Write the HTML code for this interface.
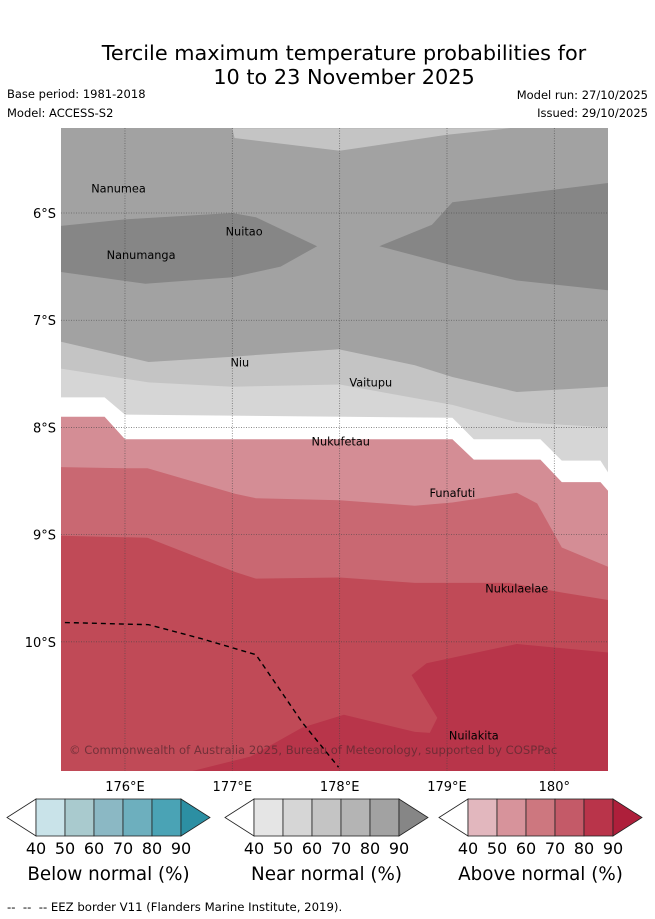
<!DOCTYPE html>
<html><head><meta charset="utf-8">
<style>
body{margin:0;background:#fff;width:655px;height:919px;overflow:hidden;font-family:"DejaVu Sans","Liberation Sans",sans-serif;}
svg{display:block}
</style></head>
<body>
<svg id="fig" width="655" height="919" xmlns="http://www.w3.org/2000/svg">
<text x="344" y="60" font-size="20.8" text-anchor="middle">Tercile maximum temperature probabilities for</text>
<text x="344" y="84" font-size="20.8" text-anchor="middle">10 to 23 November 2025</text>
<text x="7" y="98" font-size="11.5">Base period: 1981-2018</text>
<text x="7" y="117" font-size="11.5">Model: ACCESS-S2</text>
<text x="648" y="99" font-size="11.5" text-anchor="end">Model run: 27/10/2025</text>
<text x="648" y="117" font-size="11.5" text-anchor="end">Issued: 29/10/2025</text>
<defs><clipPath id="mapclip"><rect x="61" y="128" width="547" height="643"/></clipPath></defs>
<g id="map" clip-path="url(#mapclip)"></g>
<g id="overlay"></g>
<g id="cbars"></g>
<text x="7" y="911" font-size="11.7">-- &#160;-- &#160;-- EEZ border V11 (Flanders Marine Institute, 2019).</text>
</svg>
<script>
// axis extents
const lonMin = 175.404, lonMax = 180.50, latMin = 5.207, latMax = 11.205;
const X = lon => 61 + (lon - lonMin) / (lonMax - lonMin) * 547;
const Y = lat => 128 + (lat - latMin) / (latMax - latMin) * 643;
const lonTicks = [176, 177, 178, 179, 180];
const lonTickLabels = ["176°E", "177°E", "178°E", "179°E", "180°"];
const latTicks = [6, 7, 8, 9, 10];
const latTickLabels = ["6°S", "7°S", "8°S", "9°S", "10°S"];

// contour polygons [lon, lat]
const topLightLon = [177.00, 177.02, 178.00, 179.00, 179.59];
const topLightLat = [5.21, 5.30, 5.42, 5.27, 5.21];
const darkLeftLon = [175.40, 176.00, 177.00, 177.22, 177.79, 177.45, 177.00, 176.19, 175.40];
const darkLeftLat = [6.12, 6.06, 6.00, 6.04, 6.31, 6.50, 6.60, 6.66, 6.55];
const darkRightLon = [178.37, 178.86, 179.05, 180.50, 180.50, 179.65, 179.05];
const darkRightLat = [6.31, 6.11, 5.90, 5.72, 6.72, 6.63, 6.49];
// band boundaries (filled downward to map bottom)
const b60Lon = [175.40, 176.22, 177.00, 177.99, 178.70, 179.05, 179.65, 180.50];
const b60Lat = [7.20, 7.39, 7.34, 7.27, 7.42, 7.53, 7.67, 7.62];
const b50Lon = [175.40, 176.22, 177.00, 178.00, 179.05, 179.65, 180.50];
const b50Lat = [7.45, 7.58, 7.62, 7.60, 7.79, 7.95, 8.00];
const bWhiteLon = [175.40, 175.81, 176.00, 179.05, 179.25, 179.87, 180.07, 180.43, 180.50];
const bWhiteLat = [7.72, 7.72, 7.88, 7.91, 8.11, 8.11, 8.31, 8.31, 8.42];
const bRed50Lon = [175.40, 175.81, 176.00, 179.05, 179.25, 179.87, 180.07, 180.43, 180.50];
const bRed50Lat = [7.90, 7.90, 8.11, 8.11, 8.30, 8.30, 8.51, 8.51, 8.59];
const bRed60Lon = [175.40, 176.00, 176.21, 177.03, 177.22, 178.00, 178.70, 179.05, 179.65, 179.84, 180.07, 180.50];
const bRed60Lat = [8.37, 8.38, 8.38, 8.62, 8.66, 8.68, 8.73, 8.70, 8.61, 8.71, 9.12, 9.30];
const bRed70Lon = [175.40, 176.21, 177.03, 177.22, 178.00, 178.70, 179.05, 179.58, 180.07, 180.50];
const bRed70Lat = [9.01, 9.03, 9.35, 9.41, 9.40, 9.45, 9.45, 9.45, 9.54, 9.61];
const red80Lon = [178.67, 178.81, 179.65, 180.50, 180.50, 176.61, 177.17, 177.65, 178.04, 178.70, 178.84, 178.91, 178.77];
const red80Lat = [10.31, 10.20, 10.02, 10.10, 11.21, 11.21, 11.07, 10.80, 10.68, 10.84, 10.85, 10.71, 10.48];
const eezLon = [175.44, 176.22, 176.71, 177.22, 177.65, 177.99];
const eezLat = [9.82, 9.84, 9.97, 10.12, 10.75, 11.17];

const NS = "http://www.w3.org/2000/svg";
const map = document.getElementById('map');
const overlay = document.getElementById('overlay');
const cb = document.getElementById('cbars');
function el(tag, attrs, parent){const e=document.createElementNS(NS,tag);for(const k in attrs)e.setAttribute(k,attrs[k]);parent.appendChild(e);return e;}
function poly(lons, lats, fill, name){
  const pts = lons.map((l,i)=>X(l).toFixed(1)+','+Y(lats[i]).toFixed(1)).join(' ');
  const p = el('polygon',{points:pts,fill:fill},map);
  
  
}
function band(lons, lats, fill, name){
  poly(lons.concat([lonMax+0.1, lonMin-0.1]), lats.concat([latMax+0.1, latMax+0.1]), fill, name);
}
const bg = el('rect',{x:61,y:128,width:547,height:643,fill:'#a2a2a2'},map);


poly(topLightLon, topLightLat, '#c4c4c4', 'near-normal-60-70-top');
poly(darkLeftLon, darkLeftLat, '#868686', 'near-normal-90-left');
poly(darkRightLon, darkRightLat, '#868686', 'near-normal-90-right');
band(b60Lon, b60Lat, '#c4c4c4', 'near-normal-60-70-band');
band(b50Lon, b50Lat, '#d6d6d6', 'near-normal-50-60-band');
band(bWhiteLon, bWhiteLat, '#ffffff', 'no-signal-band');
band(bRed50Lon, bRed50Lat, '#d48d95', 'above-normal-50-60-band');
band(bRed60Lon, bRed60Lat, '#c96872', 'above-normal-60-70-band');
band(bRed70Lon, bRed70Lat, '#c04a57', 'above-normal-70-80-band');
poly(red80Lon, red80Lat, '#b8354a', 'above-normal-80-90-area');

// grid
lonTicks.forEach((t,i)=>{
  const g = el('line',{x1:X(t),x2:X(t),y1:128,y2:771,stroke:'#444','stroke-width':0.8,'stroke-dasharray':'1,1.5','stroke-opacity':0.7},map);
  
  
  const tx = el('text',{x:X(t),y:791,'font-size':13,'text-anchor':'middle'},overlay);
  tx.textContent = lonTickLabels[i];
  
  
});
latTicks.forEach((t,i)=>{
  const g = el('line',{x1:61,x2:608,y1:Y(t),y2:Y(t),stroke:'#444','stroke-width':0.8,'stroke-dasharray':'1,1.5','stroke-opacity':0.7},map);
  
  
  const tx = el('text',{x:56,y:Y(t)+5,'font-size':13,'text-anchor':'end'},overlay);
  tx.textContent = latTickLabels[i];
  
  
});
// EEZ border
const eez = el('polyline',{points:eezLon.map((l,i)=>X(l)+','+Y(eezLat[i])).join(' '),fill:'none',stroke:'#000','stroke-width':1.4,'stroke-dasharray':'5,4'},map);



// island labels
const islandNames = ["Nanumea","Nanumanga","Nuitao","Niu","Vaitupu","Nukufetau","Funafuti","Nukulaelae","Nuilakita"];
const islandLabelLon = [175.94, 176.15, 177.11, 177.07, 178.29, 178.01, 179.05, 179.65, 179.25];
const islandLabelLat = [5.81, 6.43, 6.21, 7.43, 7.62, 8.17, 8.65, 9.54, 10.91];
islandNames.forEach((n,i)=>{
  const tx = el('text',{x:X(islandLabelLon[i]),y:Y(islandLabelLat[i]),'font-size':11.3,'text-anchor':'middle'},map);
  tx.textContent = n;
  
  
});
const cr = el('text',{x:69,y:754,'font-size':11.6,fill:'#5a2a30','fill-opacity':0.75},map);
cr.textContent = '© Commonwealth of Australia 2025, Bureau of Meteorology, supported by COSPPac';



// colorbars
const cbTicks = [40, 50, 60, 70, 80, 90];
const cbTitles = ["Below normal (%)", "Near normal (%)", "Above normal (%)"];
const cbColors = [
  ["#c9e3e9","#a9cace","#8bb8c4","#6dafbe","#4aa3b5","#2c8fa3"],
  ["#e5e5e5","#d6d6d6","#c4c4c4","#b4b4b4","#a2a2a2","#868686"],
  ["#e2b7be","#d7939b","#cd777f","#c45a68","#b9344a","#ae1f3b"]
];
const cbLeft = [7, 225, 439];
cbLeft.forEach((x0,k)=>{
  const a = x0+29, top=799, bot=836, mid=817.5, w=29;
  const lt = el('polygon',{points:`${x0},${mid} ${a},${top} ${a},${bot}`,fill:'#fff',stroke:'#222','stroke-width':0.8},cb);
  
  
  for(let i=0;i<5;i++){
    const r = el('rect',{x:a+i*w,y:top,width:w,height:bot-top,fill:cbColors[k][i],stroke:'#222','stroke-width':0.8},cb);
    
    
  }
  const e = a+5*w;
  const rt = el('polygon',{points:`${e},${top} ${e+29},${mid} ${e},${bot}`,fill:cbColors[k][5],stroke:'#222','stroke-width':0.8},cb);
  
  
  cbTicks.forEach((t,i)=>{
    const tx = el('text',{x:a+i*w,y:854,'font-size':16,'text-anchor':'middle'},cb);
    tx.textContent = t;
    
    
  });
  const tt = el('text',{x:a+2.5*w,y:880,'font-size':18.3,'text-anchor':'middle'},cb);
  tt.textContent = cbTitles[k];
  
  
});
</script>
</body></html>
